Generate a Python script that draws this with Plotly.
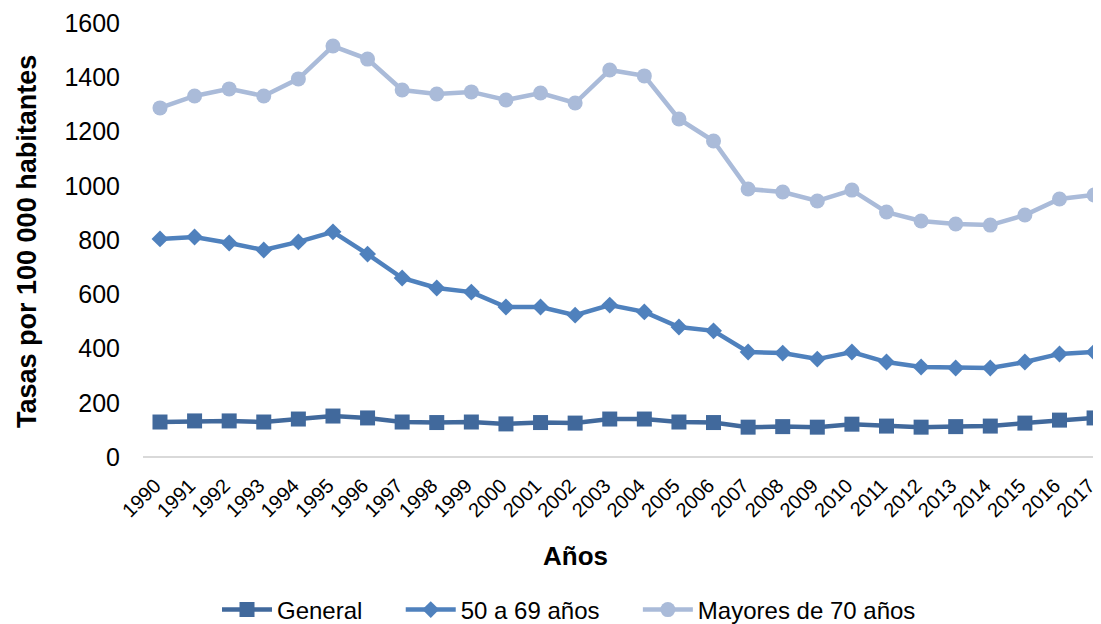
import plotly.graph_objects as go

years = [str(y) for y in range(1990, 2018)]

general = [129, 133, 133, 129, 140, 151, 144, 129, 127, 129, 122, 127, 125, 140,
           140, 129, 127, 110, 112, 110, 121, 114, 110, 112, 114, 125, 136, 144]
edad_50_69 = [804, 811, 789, 763, 793, 830, 748, 660, 623, 608, 553, 553, 523, 560,
              535, 479, 465, 387, 383, 361, 387, 350, 332, 328, 328, 350, 380, 387]
mayores_70 = [1287, 1331, 1357, 1331, 1394, 1515, 1467, 1353, 1338, 1346, 1316, 1342, 1305, 1427,
              1405, 1246, 1165, 988, 977, 944, 984, 903, 870, 859, 855, 892, 951, 966]

y_ticks = [0, 200, 400, 600, 800, 1000, 1200, 1400, 1600]

FONT = "Liberation Sans, Arial, sans-serif"
PAD = "\u00a0" * 5  # extra spacing between legend entries

# page has an 8px body margin; figure is sized so it fills the 1101x624 window
W, H = 1093, 616
L, T, PH = 135, 15, 434
PW = W - L

def px_x(page_x):
    return (page_x - 8 - L) / PW

def px_y(page_y):
    return (T + PH - (page_y - 8)) / PH

fig = go.Figure()
fig.add_trace(go.Scatter(
    x=years, y=general, name="General" + PAD, mode="lines+markers", cliponaxis=False,
    line=dict(color="#41699C", width=4.5),
    marker=dict(symbol="square", size=15, color="#41699C"),
))
fig.add_trace(go.Scatter(
    x=years, y=edad_50_69, name="50 a 69 años" + PAD, mode="lines+markers", cliponaxis=False,
    line=dict(color="#4F81BD", width=4.5),
    marker=dict(symbol="diamond", size=13, color="#4F81BD"),
))
fig.add_trace(go.Scatter(
    x=years, y=mayores_70, name="Mayores de 70 años", mode="lines+markers", cliponaxis=False,
    line=dict(color="#AABBD9", width=4.5),
    marker=dict(symbol="circle", size=15, color="#AABBD9"),
))

fig.update_layout(
    width=W, height=H,
    margin=dict(l=L, r=0, t=T, b=H - T - PH, autoexpand=False),
    paper_bgcolor="white", plot_bgcolor="white",
    font=dict(family=FONT, color="#000000"),
    showlegend=True,
    legend=dict(
        orientation="h", x=px_x(217), xanchor="left",
        y=px_y(610), yanchor="middle",
        font=dict(size=24, family=FONT), tracegroupgap=0, itemwidth=50,
    ),
    xaxis=dict(
        type="category", range=[-0.491, 27.2], automargin=False,
        tickangle=-45, tickfont=dict(size=20, family=FONT),
        ticklabelstandoff=12, ticklabelshift=-5,
        showgrid=False, showline=False, ticks="", zeroline=False,
    ),
    yaxis=dict(
        range=[0, 1600], tickvals=y_ticks, ticktext=[str(v) for v in y_ticks],
        tickfont=dict(size=25, family=FONT), automargin=False, ticklabelstandoff=22,
        showgrid=False, showline=False, ticks="",
        zeroline=True, zerolinecolor="#D9D9D9", zerolinewidth=1.5,
    ),
    annotations=[
        dict(text="<b>Años</b>", xref="paper", yref="paper", x=px_x(575),
             y=px_y(556), xanchor="center", yanchor="middle", showarrow=False,
             font=dict(size=26, family=FONT)),
        dict(text="<b>Tasas por 100 000 habitantes</b>", xref="paper", yref="paper",
             x=px_x(27), y=px_y(242), xanchor="center", yanchor="middle",
             showarrow=False, textangle=-90, font=dict(size=27, family=FONT)),
    ],
)

fig.write_html("out.html")
